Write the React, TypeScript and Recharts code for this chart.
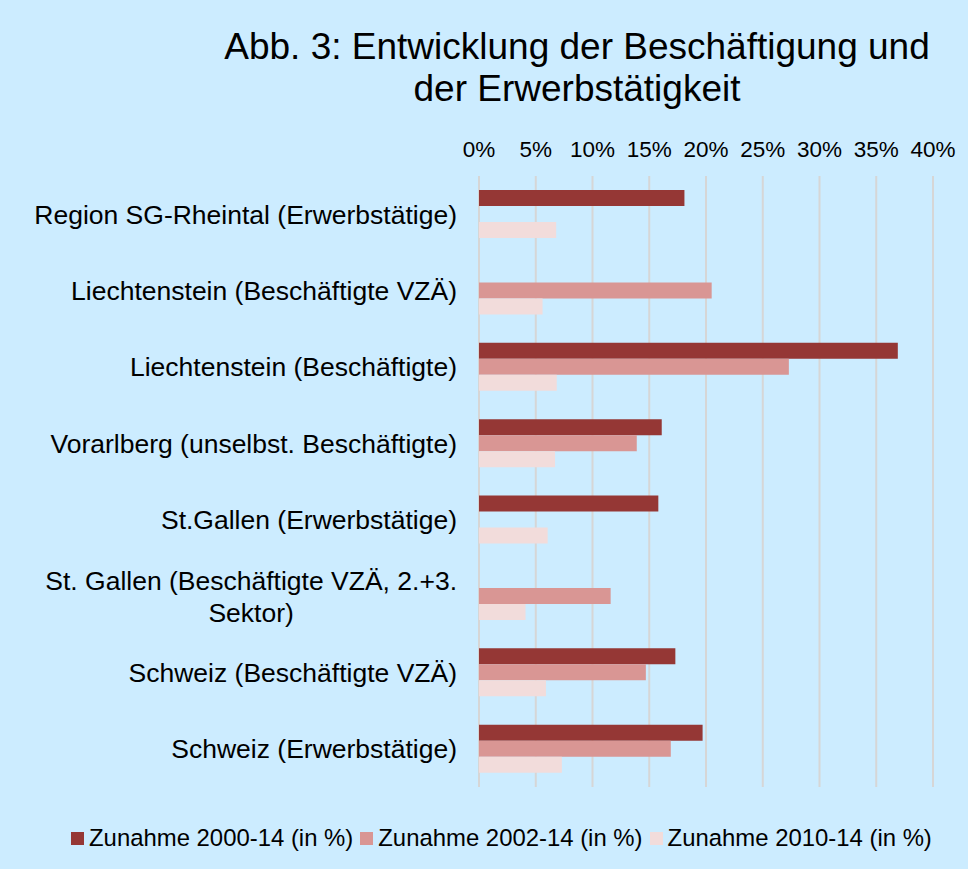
import React from "react";
import { Bar, BarChart, CartesianGrid, Legend, XAxis, YAxis } from "recharts";

const categories = [
  "Region SG-Rheintal (Erwerbstätige)",
  "Liechtenstein (Beschäftigte VZÄ)",
  "Liechtenstein (Beschäftigte)",
  "Vorarlberg (unselbst. Beschäftigte)",
  "St.Gallen (Erwerbstätige)",
  "St. Gallen (Beschäftigte VZÄ, 2.+3.\nSektor)",
  "Schweiz (Beschäftigte VZÄ)",
  "Schweiz (Erwerbstätige)",
];

const zunahme2000 = [18.1, null, 36.9, 16.1, 15.8, null, 17.3, 19.7];
const zunahme2002 = [null, 20.5, 27.3, 13.9, null, 11.6, 14.7, 16.9];
const zunahme2010 = [6.8, 5.6, 6.85, 6.7, 6.05, 4.1, 5.9, 7.3];

const xTicks = [0, 5, 10, 15, 20, 25, 30, 35, 40];

const seriesNames = ["Zunahme 2000-14 (in %)", "Zunahme 2002-14 (in %)", "Zunahme 2010-14 (in %)"];
const colors = ["#953735", "#D99694", "#F2DCDB"];

const FONT = '"Liberation Sans", Arial, sans-serif';

const data = categories.map((name, i) => ({
  name,
  s2000: zunahme2000[i],
  s2002: zunahme2002[i],
  s2010: zunahme2010[i],
}));

let measureCtx: CanvasRenderingContext2D | null = null;
function textWidth(text: string, size: number) {
  if (!measureCtx) measureCtx = document.createElement("canvas").getContext("2d");
  if (!measureCtx) return text.length * size * 0.5;
  measureCtx.font = `${size}px "Liberation Sans", Arial, sans-serif`;
  return measureCtx.measureText(text).width;
}

function CategoryTick(props: any) {
  const { x, y, payload } = props;
  const lines = String(payload.value).split("\n");
  const right = x - 22;
  if (lines.length === 1) {
    return (
      <text x={right} y={y} dy={9.5} textAnchor="end" fontSize={26.5} fontFamily={FONT} fill="#000">
        {lines[0]}
      </text>
    );
  }
  const w = Math.max(...lines.map((l) => textWidth(l, 26.5)));
  const cx = right - w / 2;
  return (
    <text x={cx} y={y} textAnchor="middle" fontSize={26.5} fontFamily={FONT} fill="#000">
      {lines.map((l, i) => (
        <tspan key={i} x={cx} dy={i === 0 ? -6 : 32}>
          {l}
        </tspan>
      ))}
    </text>
  );
}

function PercentTick(props: any) {
  const { x, y, payload } = props;
  return (
    <text x={x} y={y - 27} dominantBaseline="central" textAnchor="middle" fontSize={22.5} fontFamily={FONT} fill="#000">
      {payload.value}%
    </text>
  );
}

function LegendContent() {
  return (
    <div style={{ display: "flex", alignItems: "center", height: 28, paddingLeft: 71, fontFamily: FONT, fontSize: 23.9, color: "#000" }}>
      {seriesNames.map((n, i) => (
        <div key={n} style={{ display: "flex", alignItems: "center", marginRight: 7 }}>
          <span style={{ width: 13, height: 13, background: colors[i], display: "inline-block", marginRight: 5 }} />
          <span style={{ whiteSpace: "nowrap" }}>{n}</span>
        </div>
      ))}
    </div>
  );
}

export default function App() {
  return (
    <div style={{ position: "relative", width: 968, height: 869, background: "#CCECFF", fontFamily: FONT }}>
      <style>{"body{margin:0}"}</style>
      <div
        style={{
          position: "absolute",
          top: 26,
          left: 577,
          transform: "translateX(-50%)",
          fontSize: 37,
          lineHeight: "42px",
          textAlign: "center",
          whiteSpace: "nowrap",
          color: "#000",
        }}
      >
        Abb. 3: Entwicklung der Beschäftigung und
        <br />
        der Erwerbstätigkeit
      </div>
      <div style={{ position: "absolute", top: 0, left: 0 }}>
        <BarChart
          width={968}
          height={869}
          data={data}
          layout="vertical"
          margin={{ top: 130, right: 35, bottom: 54, left: 0 }}
          barSize={16}
          barGap={0}
        >
          <CartesianGrid horizontal={false} stroke="#D6D6D6" strokeWidth={2} />
          <XAxis
            type="number"
            orientation="top"
            domain={[0, 40]}
            ticks={xTicks}
            height={46}
            axisLine={false}
            tickLine={false}
            tickSize={0}
            tickMargin={0}
            tick={<PercentTick />}
            interval={0}
          />
          <YAxis
            type="category"
            dataKey="name"
            width={479}
            axisLine={false}
            tickLine={false}
            tickSize={0}
            tickMargin={0}
            tick={<CategoryTick />}
            interval={0}
          />
          <Legend
            verticalAlign="bottom"
            content={<LegendContent />}
            wrapperStyle={{ top: 824, bottom: "auto", left: 0, width: 968 }}
          />
          <Bar dataKey="s2000" name={seriesNames[0]} fill={colors[0]} isAnimationActive={false} />
          <Bar dataKey="s2002" name={seriesNames[1]} fill={colors[1]} isAnimationActive={false} />
          <Bar dataKey="s2010" name={seriesNames[2]} fill={colors[2]} isAnimationActive={false} />
        </BarChart>
      </div>
    </div>
  );
}
